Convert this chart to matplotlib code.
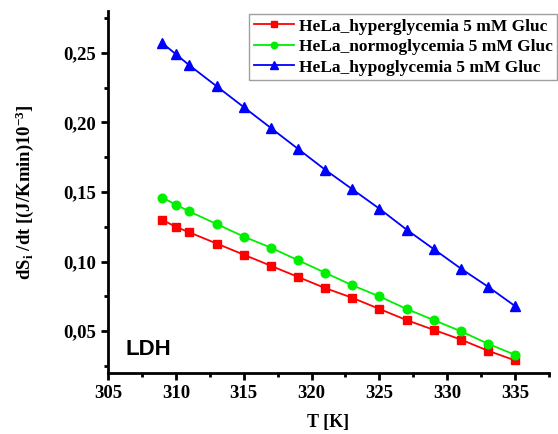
import matplotlib
matplotlib.use("Agg")
import matplotlib.pyplot as plt
from matplotlib.ticker import MultipleLocator, FuncFormatter

T = [309, 310, 311, 313, 315, 317, 319, 321, 323, 325, 327, 329, 331, 333, 335]
hyper = [0.130, 0.125, 0.121, 0.113, 0.105, 0.097, 0.089, 0.081, 0.074, 0.066, 0.058, 0.051, 0.044, 0.036, 0.029]
normo = [0.146, 0.141, 0.136, 0.127, 0.118, 0.110, 0.101, 0.092, 0.083, 0.075, 0.066, 0.058, 0.050, 0.041, 0.033]
hypo = [0.257, 0.249, 0.241, 0.226, 0.211, 0.196, 0.181, 0.166, 0.152, 0.138, 0.123, 0.109, 0.095, 0.082, 0.068]
labels = ["HeLa_hyperglycemia 5 mM Gluc", "HeLa_normoglycemia 5 mM Gluc", "HeLa_hypoglycemia 5 mM Gluc"]

plt.rcParams['mathtext.fontset'] = 'custom'
plt.rcParams['mathtext.rm'] = 'Liberation Serif:bold'
plt.rcParams['mathtext.it'] = 'Liberation Serif:bold'
plt.rcParams['mathtext.bf'] = 'Liberation Serif:bold'

fig = plt.figure(figsize=(5.58, 4.34), dpi=100)
ax = fig.add_axes([0.1935, 0.1406, 0.7905, 0.834])

ax.plot(T, hyper, color='#ff0000', marker='s', markersize=5.5, lw=1.3, label=labels[0])
ax.plot(T, normo, color='#00ee00', marker='o', markersize=6.2, lw=1.3, label=labels[1])
ax.plot(T, hypo, color='#0000ff', marker='^', markersize=7.5, lw=1.3, label=labels[2])

ax.set_xlim(305, 337.5)
ax.set_ylim(0.02, 0.28)
ax.xaxis.set_major_locator(MultipleLocator(5))
ax.xaxis.set_minor_locator(MultipleLocator(2.5))
ax.yaxis.set_major_locator(MultipleLocator(0.05))
ax.yaxis.set_minor_locator(MultipleLocator(0.025))
ax.yaxis.set_major_formatter(FuncFormatter(lambda v, p: f"{v:.2f}".replace('.', ',')))

for s in ['top', 'right']:
    ax.spines[s].set_visible(False)
for s in ['left', 'bottom']:
    ax.spines[s].set_linewidth(2)
ax.tick_params(which='major', direction='out', length=5, width=2)
ax.tick_params(which='minor', direction='out', length=3, width=2)
for lab in ax.get_xticklabels() + ax.get_yticklabels():
    lab.set_fontfamily('Liberation Serif')
    lab.set_fontweight('bold')
    lab.set_fontsize(13.5)

ax.set_xlabel("T [K]", fontfamily='Liberation Serif', fontweight='bold', fontsize=13, labelpad=9)
ax.set_ylabel(r"dS$_\mathrm{i}$ /dt [(J/Kmin)10$^{\mathrm{-3}}$]", fontfamily='Liberation Serif',
              fontweight='bold', fontsize=13.5, labelpad=20)

ax.text(0.04, 0.05, "LDH", transform=ax.transAxes, fontfamily='Liberation Sans', fontweight='bold', fontsize=16)

leg = ax.legend(loc='upper right', bbox_to_anchor=(1.018, 0.9917),
                prop={'family': 'Liberation Serif', 'weight': 'bold', 'size': 12.5},
                frameon=True, fancybox=False, edgecolor='#888888', handlelength=2.3, handletextpad=0.3,
                borderpad=0.25, labelspacing=0.25, borderaxespad=0, markerscale=0.75)
leg.get_frame().set_linewidth(1)

fig.savefig("out.png", dpi=100)
